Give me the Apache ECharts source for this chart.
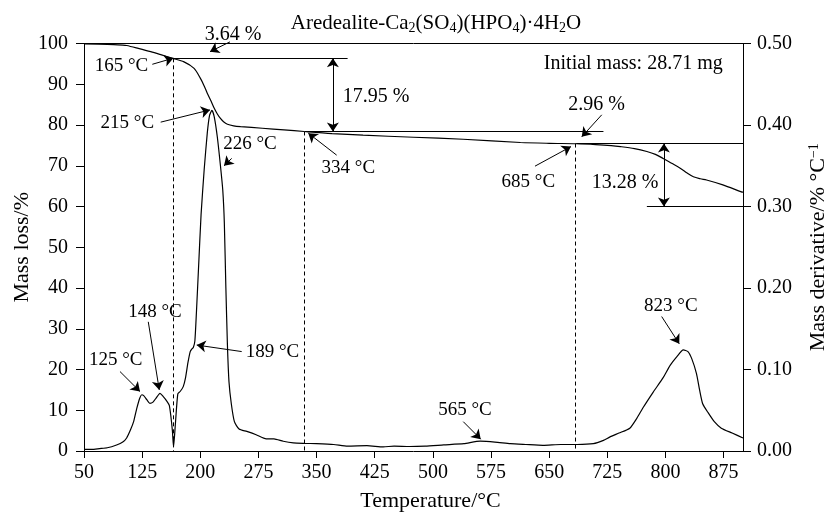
<!DOCTYPE html>
<html><head><meta charset="utf-8">
<script src="https://cdn.jsdelivr.net/npm/echarts@6/dist/echarts.min.js"></script>
<style>html,body{margin:0;padding:0;background:#fff}#c{width:832px;height:513px}</style>
</head><body><div id="c"></div>
<script>
const xTicks = [50,125,200,275,350,425,500,575,650,725,800,875];

const tgTemp = [50,80,100,105,120,136,150,163.5,179,192,200,205,209,214,218,222,226,230,235,243,252,280,308,334,370,410,475,539,613,650,685,710,730,742,760,776,787,797,808,819,828,836,845,853,874,898,900];
const tgMass = [99.9,99.8,99.6,99.5,98.8,98.0,97.2,96.4,95.5,93.9,91.5,89.6,87.8,85.8,84.1,82.7,81.6,80.8,80.2,79.8,79.6,79.2,78.8,78.4,77.9,77.5,77.0,76.5,75.7,75.5,75.4,75.2,74.95,74.7,74.2,73.5,72.8,71.8,70.6,69.4,68.2,67.3,66.8,66.5,65.3,63.6,63.5];

const dtgTemp = [50,60,70,80,92,100,105,110,114,118,122,124.5,127,131,135,139,143,148,152,157,160,162,164,165.5,168,171,174,178,181,184,187,189,191,193,195,198,201,205,209,212,215,218,222,226,229,231,233,235,237,240,244,250,260,272,285,295,307,320,334,350,372,390,415,436,450,470,490,514,540,561,580,600,620,642,665,686,707,720,728,740,754,763,771,784,797,806,815,823,829,834,840,844,848,855,863,872,886,900];
const dtgRate = [0.002,0.002,0.003,0.004,0.0074,0.011,0.016,0.026,0.036,0.052,0.065,0.069,0.068,0.063,0.0585,0.06,0.065,0.0708,0.067,0.061,0.056,0.043,0.025,0.005,0.035,0.07,0.073,0.079,0.09,0.108,0.122,0.125,0.127,0.135,0.17,0.23,0.29,0.345,0.39,0.412,0.418,0.41,0.385,0.35,0.32,0.28,0.2,0.13,0.085,0.058,0.036,0.027,0.024,0.02,0.015,0.015,0.012,0.010,0.0094,0.009,0.008,0.006,0.0065,0.005,0.006,0.0055,0.006,0.0075,0.009,0.012,0.011,0.009,0.008,0.007,0.008,0.008,0.009,0.013,0.017,0.022,0.028,0.04,0.053,0.072,0.09,0.105,0.116,0.124,0.122,0.113,0.095,0.075,0.058,0.047,0.036,0.028,0.022,0.016];

const labelText = ['3.64 %','165 °C','17.95 %','215 °C','226 °C','334 °C','2.96 %','Initial mass: 28.71 mg','685 °C','13.28 %','148 °C','125 °C','189 °C','565 °C','823 °C'];
const labelAt = [[242.2,102.2],[98.4,94.4],[426.6,86.9],[105.9,80.4],[264.1,75.3],[390.9,69.4],[711.3,84.9],[758.5,95.1],[623.1,66.1],[747.8,65.9],[141.6,34.0],[91.0,22.3],[293.1,24.2],[541.4,10.1],[806.9,35.6]];

const arrowFrom = [[238.3,100.4],[138.1,94.9],[148.9,80.7],[240.5,71.8],[375.9,72.6],[717.8,82.5],[631.7,69.9],[132.9,31.7],[96.4,19.5],[253.4,24.4],[539.2,7.2],[795.1,33.0]];
const arrowTo   = [[212.5,98.0],[165.2,96.4],[212.5,83.7],[230.6,70.0],[339.3,78.0],[692,77.1],[678.1,74.7],[147.1,15.0],[122.2,14.6],[195.4,26.0],[561.7,2.9],[817.8,26.3]];

const levelValue = [100, 96.36, 78.41, 75.45, 60];
const levelFrom  = [50, 164, 335, 685, 776];
const levelTo    = [900, 390, 720, 900, 900];

const dashTemp  = [165, 334, 684];
const dashTop   = [96.36, 78.41, 75.45];

const spanTemp = [371, 798];
const spanTop  = [96.36, 75.45];
const spanBot  = [78.41, 60];

const FONT = 'Liberation Serif';
const zip = (a, b) => a.map((v, i) => [v, b[i]]);

const linesBase = {type: 'lines', coordinateSystem: 'cartesian2d', xAxisIndex: 0, yAxisIndex: 0,
  clip: false, silent: true, polyline: false, animation: false, symbolSize: 9,
  lineStyle: {color: '#000', width: 1, opacity: 1, curveness: 0}};

const chart = echarts.init(document.getElementById('c'), null, {renderer:'canvas'});
chart.setOption({
  animation: false,
  backgroundColor: '#fff',
  textStyle: {fontFamily: FONT, color: '#000'},
  title: {
    text: 'Aredealite-Ca{s|2}(SO{s|4})(HPO{s|4})·4H{s|2}O',
    left: 436, top: 11, padding: 0, textAlign: 'center',
    textStyle: {fontFamily: FONT, fontSize: 21, fontWeight: 'normal', color: '#000', lineHeight: 24,
      rich: {s: {fontFamily: FONT, fontSize: 14, verticalAlign: 'bottom', lineHeight: 24, color:'#000'}}}
  },
  grid: {left: 84, right: 89, top: 43.5, bottom: 62, containLabel: false, outerBoundsMode: 'none'},
  xAxis: {
    type: 'value', min: 50, max: 900,
    name: 'Temperature/°C', nameLocation: 'middle', nameGap: 39,
    nameTextStyle: {fontFamily: FONT, fontSize: 22, color: '#000', padding: [0,0,0,34]},
    axisLine: {lineStyle: {color: '#000', width: 1}},
    axisTick: {show: true, length: 7, customValues: xTicks, lineStyle: {color: '#000'}},
    axisLabel: {customValues: xTicks, fontFamily: FONT, fontSize: 20, color: '#000', margin: 12},
    splitLine: {show: false}
  },
  yAxis: [{
    type: 'value', min: 0, max: 100, interval: 10, position: 'left',
    name: 'Mass loss/%', nameLocation: 'middle', nameGap: 51, nameMoveOverlap: false,
    nameTextStyle: {fontFamily: FONT, fontSize: 22, color: '#000'},
    axisLine: {show: true, lineStyle: {color: '#000', width: 1}},
    axisTick: {show: true, length: 8, lineStyle: {color: '#000'}},
    axisLabel: {fontFamily: FONT, fontSize: 20, color: '#000', margin: 16},
    splitLine: {show: false}
  }, {
    type: 'value', min: 0, max: 0.5, interval: 0.1, position: 'right',
    name: 'Mass derivative/% °C{p|−1}', nameLocation: 'middle', nameGap: 64,
    nameTextStyle: {fontFamily: FONT, fontSize: 22, color: '#000',
      rich: {p: {fontFamily: FONT, fontSize: 14, verticalAlign: 'top', lineHeight: 22, color: '#000'}}},
    axisLine: {show: true, lineStyle: {color: '#000', width: 1}},
    axisTick: {show: true, length: 8, lineStyle: {color: '#000'}},
    axisLabel: {fontFamily: FONT, fontSize: 20, color: '#000', margin: 14, formatter: v => v.toFixed(2)},
    splitLine: {show: false}
  }],
  series: [{
    type: 'line', name: 'TG', yAxisIndex: 0, data: zip(tgTemp, tgMass), showSymbol: false, smooth: 0.3,
    lineStyle: {color: '#000', width: 1.2}, silent: true
  }, {
    type: 'line', name: 'DTG', yAxisIndex: 1, data: zip(dtgTemp, dtgRate), showSymbol: false, smooth: 0.2,
    lineStyle: {color: '#000', width: 1.2}, silent: true
  }, Object.assign({}, linesBase, {
    name: 'levels', symbol: ['none', 'none'],
    data: levelValue.map((v, i) => ({coords: [[levelFrom[i], v], [levelTo[i], v]]}))
  }), Object.assign({}, linesBase, {
    name: 'dashes', symbol: ['none', 'none'],
    lineStyle: {color: '#000', width: 1, opacity: 1, type: [4, 3]},
    data: dashTemp.map((t, i) => ({coords: [[t, dashTop[i]], [t, 0]]}))
  }), Object.assign({}, linesBase, {
    name: 'spans', symbol: ['arrow', 'arrow'],
    data: spanTemp.map((t, i) => ({coords: [[t, spanTop[i]], [t, spanBot[i]]]}))
  }), Object.assign({}, linesBase, {
    name: 'arrows', symbol: ['none', 'arrow'],
    data: arrowFrom.map((p, i) => ({coords: [p, arrowTo[i]]}))
  }), {
    type: 'scatter', yAxisIndex: 0, clip: false, silent: true, symbolSize: 0,
    itemStyle: {color: '#000', opacity: 1},
    label: {show: true, position: 'inside', fontFamily: FONT, fontSize: 19, color: '#000', opacity: 1,
      textBorderWidth: 0, formatter: p => p.name},
    data: labelText.map((t, i) => ({name: t, value: labelAt[i],
      label: {fontSize: (t.indexOf('%') >= 0 || t.indexOf('mass') >= 0) ? 20 : 19}}))
  }]
});
</script></body></html>
